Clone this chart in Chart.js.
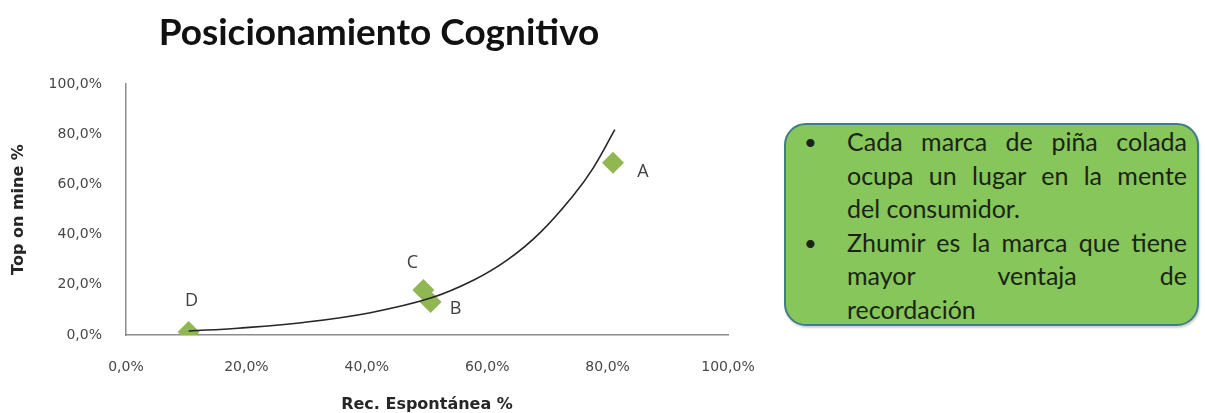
<!DOCTYPE html>
<html lang="es">
<head>
<meta charset="utf-8">
<title>Posicionamiento Cognitivo</title>
<script src="https://cdn.jsdelivr.net/npm/chart.js@4/dist/chart.umd.min.js"></script>
<style>
  html, body { margin: 0; padding: 0; background: #ffffff; }
  body { width: 1205px; height: 413px; position: relative; overflow: hidden; }
  #wrap { position: absolute; left: 0; top: 0; width: 760px; height: 413px; }
  #note {
    position: absolute; left: 784px; top: 123px; width: 415px; height: 203px;
    box-sizing: border-box; background: #86c65a; border: 2px solid #3f7d8a;
    border-radius: 22px; box-shadow: 1px 2px 2px rgba(0,0,0,0.18);
    font-family: Lato, "Open Sans", sans-serif; font-size: 25px; color: #1b2414;
    padding: 0 10px 0 0;
  }
  #note ul { list-style: none; margin: 0; padding: 0; }
  #note li { position: relative; padding-left: 61px; }
  #note li::before { content: "\2022"; position: absolute; left: 18px; top: 0; line-height: 33.5px; font-size: 22px; }
  #note .ln { display: block; line-height: 33.5px; text-align: justify; text-align-last: justify; white-space: nowrap; }
  #note .ln.end { text-align-last: left; }
</style>
</head>
<body>
<div id="wrap"><canvas id="chart" width="760" height="413"></canvas></div>
<div id="note">
  <ul>
    <li><span class="ln">Cada marca de piña colada</span><span class="ln">ocupa un lugar en la mente</span><span class="ln end">del consumidor.</span></li>
    <li><span class="ln">Zhumir es la marca que tiene</span><span class="ln">mayor ventaja de</span><span class="ln end">recordación</span></li>
  </ul>
</div>
<script>
// Brands and their recall values (percent)
const brands = ['A', 'B', 'C', 'D'];
const spontaneousRecall = [80.9, 50.6, 49.4, 10.4];   // Rec. Espontánea %
const topOfMind = [68.6, 13.1, 17.9, 1.2];            // Top on mine %

// Exponential trend line, sampled along its path
const trendX = [10.4, 18.6, 29.5, 40.6, 50.6, 57.7, 63.3, 68.8, 74.3, 77.6, 81.2];
const trendY = [1.6, 2.7, 5.0, 8.9, 14.7, 21.8, 29.8, 40.8, 55.6, 66.5, 81.8];

// Axis ticks
const tickValues = [0, 20, 40, 60, 80, 100];

const chartTitle = 'Posicionamiento Cognitivo';

const fmtPct = v => v.toFixed(1).replace('.', ',') + '%';

const brandPoints = brands.map((b, i) => ({ x: spontaneousRecall[i], y: topOfMind[i] }));
const trendPoints = trendX.map((x, i) => ({ x, y: trendY[i] }));

// Label offsets for each brand marker (pixels from the point)
const labelOffset = { A: [30, 9], B: [25, 7], C: [-11, -27], D: [3, -31] };

// Heading above the plot
const headingPlugin = {
  id: 'heading',
  afterDraw(chart) {
    const ctx = chart.ctx;
    ctx.save();
    ctx.font = 'bold 37px Lato, sans-serif';
    ctx.fillStyle = '#111111';
    ctx.textAlign = 'center';
    ctx.textBaseline = 'middle';
    ctx.fillText(chartTitle, 379, 33);
    ctx.restore();
  }
};

const brandLabels = {
  id: 'brandLabels',
  afterDatasetsDraw(chart) {
    const meta = chart.getDatasetMeta(1);
    const ctx = chart.ctx;
    ctx.save();
    ctx.font = '18px "Open Sans", sans-serif';
    ctx.fillStyle = '#404040';
    ctx.textAlign = 'center';
    ctx.textBaseline = 'middle';
    meta.data.forEach((el, i) => {
      const off = labelOffset[brands[i]];
      ctx.fillText(brands[i], el.x + off[0], el.y + off[1]);
    });
    ctx.restore();
  }
};

const axisFont = { family: '"DejaVu Sans"', size: 14 };
const axisTitleFont = { family: '"DejaVu Sans"', size: 16, weight: 'bold', lineHeight: 0.6 };

new Chart(document.getElementById('chart'), {
  type: 'scatter',
  data: {
    datasets: [
      {
        label: 'Tendencia',
        data: trendPoints,
        showLine: true,
        borderColor: '#262626',
        borderWidth: 1.6,
        pointRadius: 0,
        tension: 0.4
      },
      {
        label: 'Marcas',
        data: brandPoints,
        pointStyle: 'rectRot',
        pointRadius: 11,
        pointBackgroundColor: '#90b752',
        pointBorderColor: '#90b752',
        pointBorderWidth: 0
      }
    ]
  },
  options: {
    responsive: false,
    animation: false,
    layout: { padding: { left: 0, right: 32, top: 84, bottom: 0 } },
    plugins: {
      legend: { display: false },
      tooltip: { enabled: false },
      title: { display: false }
    },
    scales: {
      x: {
        type: 'linear',
        min: 0, max: 100,
        afterBuildTicks: s => { s.ticks = tickValues.map(v => ({ value: v })); },
        afterFit: s => { s.height = 78; s.paddingLeft = 0; s.paddingRight = 0; },
        grid: { display: false, drawTicks: false },
        border: { display: true, color: '#8c8c8c', width: 1.5 },
        ticks: {
          padding: 24,
          color: '#474747',
          font: axisFont,
          callback: v => fmtPct(v)
        },
        title: {
          display: true,
          text: 'Rec. Espontánea %',
          color: '#262626',
          font: axisTitleFont,
          padding: { top: 0, bottom: 3 }
        }
      },
      y: {
        type: 'linear',
        min: 0, max: 100,
        afterBuildTicks: s => { s.ticks = tickValues.map(v => ({ value: v })); },
        afterFit: s => { s.width = 126; s.paddingTop = 0; s.paddingBottom = 0; },
        grid: { display: false, drawTicks: false },
        border: { display: true, color: '#8c8c8c', width: 1.5 },
        ticks: {
          padding: 24,
          color: '#474747',
          font: axisFont,
          callback: v => fmtPct(v)
        },
        title: {
          display: true,
          text: 'Top on mine %',
          color: '#262626',
          font: axisTitleFont,
          padding: { top: 14, bottom: 0 }
        }
      }
    }
  },
  plugins: [brandLabels, headingPlugin]
});
</script>
</body>
</html>
